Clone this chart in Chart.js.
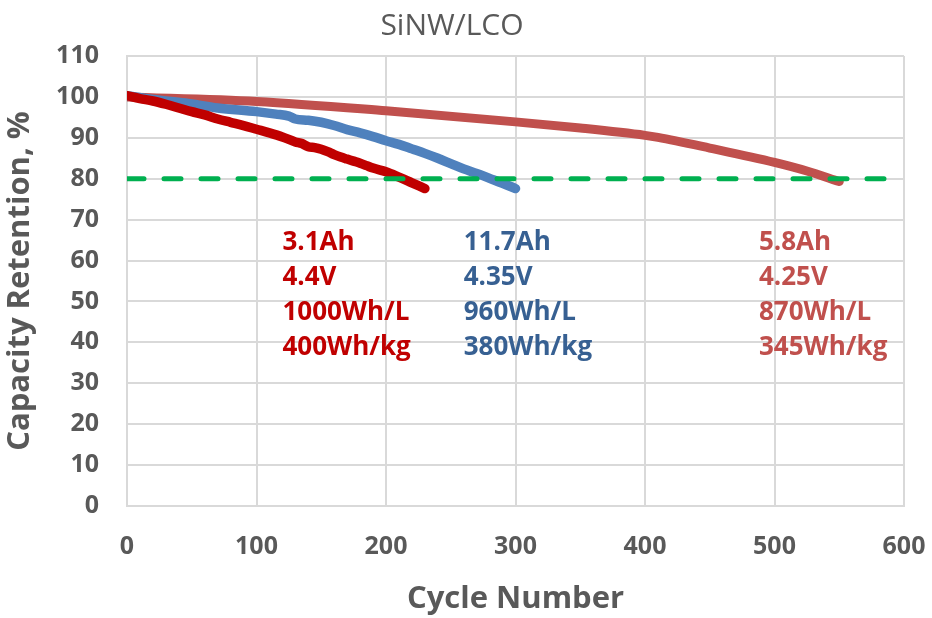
<!DOCTYPE html>
<html>
<head>
<meta charset="utf-8">
<script src="https://cdn.jsdelivr.net/npm/chart.js@4.4.1/dist/chart.umd.min.js"></script>
<style>
  html, body { margin: 0; padding: 0; background: #fff; }
  #wrap { width: 932px; height: 618px; }
</style>
</head>
<body>
<div id="wrap"><canvas id="cap-chart"></canvas></div>
<script>
// 3.1Ah cell (dark red)
const redCycles = [0, 10, 20, 30, 40, 50, 60, 70, 80, 90, 100, 110, 120, 130, 135, 140, 145, 150, 155, 160, 165, 170, 175, 180, 185, 190, 200, 210, 220, 230];
const redRetention = [100.3, 99.6, 99.0, 98.2, 97.3, 96.4, 95.6, 94.6, 93.8, 93.0, 92.1, 91.2, 90.2, 89.0, 88.6, 87.8, 87.6, 87.2, 86.6, 85.9, 85.3, 84.8, 84.3, 83.8, 83.2, 82.6, 81.7, 80.4, 79.0, 77.6];

// 11.7Ah cell (blue)
const blueCycles = [0, 20, 45, 70, 100, 115, 125, 130, 140, 150, 160, 170, 180, 190, 200, 210, 220, 230, 240, 250, 260, 270, 280, 290, 300];
const blueRetention = [100.3, 99.4, 98.5, 97.3, 96.4, 95.8, 95.3, 94.6, 94.3, 93.8, 93.0, 92.0, 91.2, 90.3, 89.3, 88.4, 87.3, 86.2, 85.0, 83.7, 82.4, 81.3, 80.1, 78.9, 77.6];

// 5.8Ah cell (light red)
const pinkCycles = [0, 100, 200, 300, 350, 400, 410, 450, 500, 525, 550];
const pinkRetention = [100.0, 98.9, 96.6, 93.9, 92.4, 90.6, 90.1, 87.5, 84.0, 81.9, 79.3];

// 80% end-of-life line
const eolCycles = [0, 590];
const eolRetention = [80, 80];

const xTicks = [0, 100, 200, 300, 400, 500, 600];

const redNotes = ['3.1Ah', '4.4V', '1000Wh/L', '400Wh/kg'];
const blueNotes = ['11.7Ah', '4.35V', '960Wh/L', '380Wh/kg'];
const pinkNotes = ['5.8Ah', '4.25V', '870Wh/L', '345Wh/kg'];

function pts(xs, ys) {
  return xs.map((x, i) => ({ x: x, y: ys[i] }));
}

const grey = '#595959';
const gridColor = '#D9D9D9';

// text blocks under the curves
const notesPlugin = {
  id: 'notes',
  afterDatasetsDraw(chart) {
    const ctx = chart.ctx;
    const xs = chart.scales.x, ys = chart.scales.y;
    const blocks = [
      { lines: redNotes, x: 120, color: '#C00000' },
      { lines: blueNotes, x: 260, color: '#376092' },
      { lines: pinkNotes, x: 488, color: '#C0504D' }
    ];
    ctx.save();
    ctx.font = 'bold 26px "Open Sans"';
    ctx.textBaseline = 'middle';
    ctx.textAlign = 'left';
    const top = ys.getPixelForValue(64.3);
    blocks.forEach(b => {
      ctx.fillStyle = b.color;
      const px = xs.getPixelForValue(b.x);
      b.lines.forEach((t, i) => {
        ctx.fillText(t, px, top + i * 35);
      });
    });
    ctx.restore();
  }
};

const lineStyle = {
  pointRadius: 0,
  borderCapStyle: 'round',
  borderJoinStyle: 'round',
  cubicInterpolationMode: 'monotone',
  fill: false
};

new Chart(document.getElementById('cap-chart'), {
  type: 'line',
  data: {
    datasets: [
      Object.assign({}, lineStyle, {
        label: '80%',
        data: pts(eolCycles, eolRetention),
        borderColor: '#00B050',
        borderWidth: 5,
        borderDash: [17, 20]
      }),
      Object.assign({}, lineStyle, {
        label: '3.1Ah',
        data: pts(redCycles, redRetention),
        borderColor: '#C00000',
        borderWidth: 9.5
      }),
      Object.assign({}, lineStyle, {
        label: '11.7Ah',
        data: pts(blueCycles, blueRetention),
        borderColor: '#4F81BD',
        borderWidth: 9.5
      }),
      Object.assign({}, lineStyle, {
        label: '5.8Ah',
        data: pts(pinkCycles, pinkRetention),
        borderColor: '#C0504D',
        borderWidth: 9
      })
    ]
  },
  options: {
    responsive: true,
    maintainAspectRatio: false,
    animation: false,
    layout: { padding: { left: 0, right: 28, top: 0, bottom: 0 } },
    plugins: {
      legend: { display: false },
      tooltip: { enabled: false },
      title: {
        display: true,
        text: 'SiNW/LCO',
        color: grey,
        font: { family: 'Open Sans', size: 30, weight: 'normal', lineHeight: 1.2 },
        padding: { top: 8, bottom: 12 }
      }
    },
    scales: {
      x: {
        type: 'linear',
        min: 0,
        max: 600,
        afterBuildTicks: (s) => { s.ticks = xTicks.map(v => ({ value: v })); },
        afterFit: (s) => { s.height = 112; s.paddingLeft = 0; s.paddingRight = 0; },
        grid: { color: gridColor, lineWidth: 2, drawTicks: false },
        border: { color: gridColor, width: 2 },
        ticks: {
          color: grey,
          padding: 26,
          maxRotation: 0,
          font: { family: 'Open Sans', size: 25, weight: 'bold' }
        },
        title: {
          display: true,
          text: 'Cycle Number',
          color: grey,
          font: { family: 'Open Sans', size: 31, weight: 'bold' },
          padding: { top: 0, bottom: 0 }
        }
      },
      y: {
        min: 0,
        max: 110,
        afterFit: (s) => { s.width = 127; },
        grid: { color: gridColor, lineWidth: 2, drawTicks: false },
        border: { color: gridColor, width: 2 },
        ticks: {
          stepSize: 10,
          color: grey,
          padding: 28,
          font: { family: 'Open Sans', size: 25, weight: 'bold' }
        },
        title: {
          display: true,
          text: 'Capacity Retention, %',
          color: grey,
          font: { family: 'Open Sans', size: 31, weight: 'bold' },
          padding: { top: 2, bottom: 0 }
        }
      }
    }
  },
  plugins: [notesPlugin]
});
</script>
</body>
</html>
